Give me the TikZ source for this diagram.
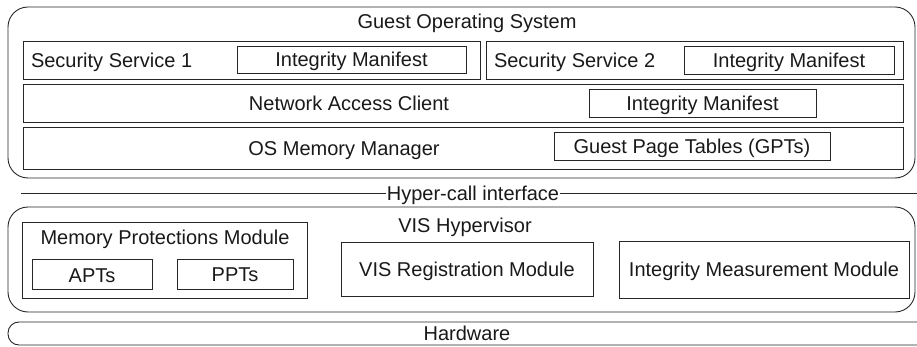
\documentclass[tikz,border=0pt]{standalone}
\usepackage{fontspec}
\setmainfont{Liberation Sans}
\begin{document}
\begin{tikzpicture}[x=1pt,y=-1pt,
  every node/.style={font=\fontsize{20}{22}\selectfont, inner sep=0pt, outer sep=0pt},
  box/.style={draw=black!85, line width=0.9pt, anchor=north west},
  rbox/.style={draw=black!85, line width=0.9pt, anchor=north west, rounded corners=20pt},
  lbl/.style={text=black!90, text height=14.3pt, text depth=0pt}]
\useasboundingbox (0,0) rectangle (917,347);
\clip (0,0) rectangle (917,347);
% Guest OS
\node[rbox, minimum width=907pt, minimum height=171pt] (gos) at (8,7) {};
\node[lbl] (gost) at (467,21) {Guest Operating System};
\node[box, minimum width=457pt, minimum height=38pt] (ss1) at (23,41) {};
\node[lbl, anchor=west] (ss1t) at (31,60) {Security Service 1};
\node[box, minimum width=229pt, minimum height=27pt] (im1) at (237,46) {};
\node[lbl] (im1t) at (im1.center) {Integrity Manifest};
\node[box, minimum width=417pt, minimum height=38pt] (ss2) at (486,41) {};
\node[lbl, anchor=west] (ss2t) at (494,60) {Security Service 2};
\node[box, minimum width=210pt, minimum height=28pt] (im2) at (684,46) {};
\node[lbl] (im2t) at (im2.center) {Integrity Manifest};
\node[box, minimum width=880pt, minimum height=38pt] (nac) at (23,84) {};
\node[lbl] (nact) at (349,103) {Network Access Client};
\node[box, minimum width=227pt, minimum height=28pt] (im3) at (589,89) {};
\node[lbl] (im3t) at (im3.center) {Integrity Manifest};
\node[box, minimum width=880pt, minimum height=42pt] (osm) at (23,127) {};
\node[lbl] (osmt) at (344,148) {OS Memory Manager};
\node[box, minimum width=276pt, minimum height=28pt] (gpt) at (554,132) {};
\node[lbl] (gptt) at (gpt.center) {Guest Page Tables (GPTs)};
% Hyper-call interface
\coordinate (hl) at (21,193);
\coordinate (hr) at (920,193);
\node[lbl, fill=white, inner xsep=1pt] (hci) at (473,193) {Hyper-call interface};
\draw[black!85, line width=0.9pt] (hl) -- (hci.west) (hci.east) -- (hr);
% VIS Hypervisor
\node[rbox, minimum width=907pt, minimum height=105pt] (vis) at (8,207) {};
\node[lbl] (vist) at (465,225) {VIS Hypervisor};
\node[box, minimum width=285pt, minimum height=76pt] (mpm) at (22,222) {};
\node[lbl] (mpmt) at (165,237) {Memory Protections Module};
\node[box, minimum width=120pt, minimum height=30pt] (apt) at (32,259) {};
\node[lbl] (aptt) at ([yshift=-1.5pt]apt.center) {APTs};
\node[box, minimum width=116pt, minimum height=30pt] (ppt) at (177,259) {};
\node[lbl] (pptt) at (ppt.center) {PPTs};
\node[box, minimum width=252pt, minimum height=54pt] (vrm) at (341,242) {};
\node[lbl] (vrmt) at (vrm.center) {VIS Registration Module};
\node[box, minimum width=290pt, minimum height=57pt] (imm) at (619,241) {};
\node[lbl] (immt) at (imm.center) {Integrity Measurement Module};
% Hardware
\node[box, rounded corners=11pt, minimum width=930pt, minimum height=23pt] (hw) at (8,322) {};
\node[lbl] (hwt) at (467,333) {Hardware};
\end{tikzpicture}
\end{document}
